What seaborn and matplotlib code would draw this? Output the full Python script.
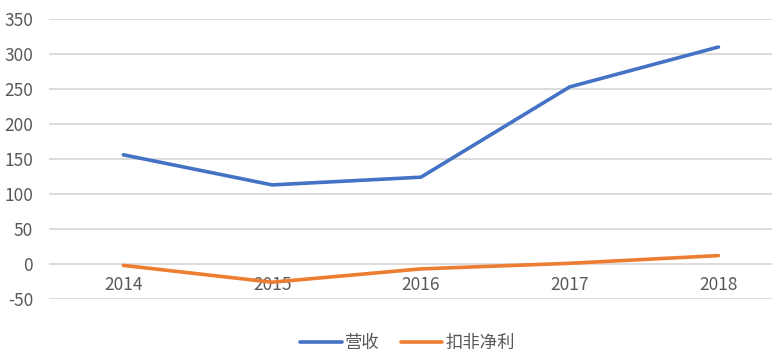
import matplotlib
matplotlib.use("Agg")
import matplotlib.pyplot as plt
import seaborn as sns
import pandas as pd

years = ["2014", "2015", "2016", "2017", "2018"]
revenue = [156, 113, 124, 253, 310]
net_profit = [-2, -26, -7, 1, 12]
series_names = ["营收", "扣非净利"]
y_ticks = [-50, 0, 50, 100, 150, 200, 250, 300, 350]

sns.set_theme(style="white")
plt.rcParams['font.family'] = ['Noto Sans CJK SC', 'DejaVu Sans']

df = pd.DataFrame({
    "year": years * 2,
    "value": revenue + net_profit,
    "series": [series_names[0]] * len(years) + [series_names[1]] * len(years),
})
df["x"] = list(range(len(years))) * 2

fig = plt.figure(figsize=(7.72, 3.64), dpi=100)
ax = fig.add_axes([49 / 772, (364 - 299) / 364, 1 - 49 / 772, (299 - 19) / 364])

sns.lineplot(data=df, x="x", y="value", hue="series",
             palette=["#4472C4", "#ED7D31"], linewidth=2.6, ax=ax,
             legend=False, sort=False)

ax.set_ylim(-50, 350)
ax.set_xlim(-0.5, 4.36)
ax.set_yticks(y_ticks)
ax.set_yticklabels([str(t) for t in y_ticks])
ax.set_xticks(range(len(years)))
ax.set_xticklabels(years)
ax.grid(axis="y", color="#d9d9d9", linewidth=1.3)
ax.set_axisbelow(True)
for s in ax.spines.values():
    s.set_visible(False)
ax.spines['bottom'].set_position(('data', 0))
ax.tick_params(axis="both", length=0, labelsize=12.5, labelcolor="#595959")
ax.tick_params(axis="y", pad=11.5)
ax.tick_params(axis="x", pad=9)
ax.set_xlabel("")
ax.set_ylabel("")

from matplotlib.lines import Line2D
handles = [Line2D([], [], color="#4472C4", linewidth=2.6),
           Line2D([], [], color="#ED7D31", linewidth=2.6)]
fig.legend(handles, series_names, loc="center", bbox_to_anchor=(0.528, 0.058),
           ncol=2, frameon=False, fontsize=12.5, handlelength=2.4,
           columnspacing=1.2, handletextpad=0.2, labelcolor="#595959")

fig.savefig("out.png", dpi=100, facecolor="white")
